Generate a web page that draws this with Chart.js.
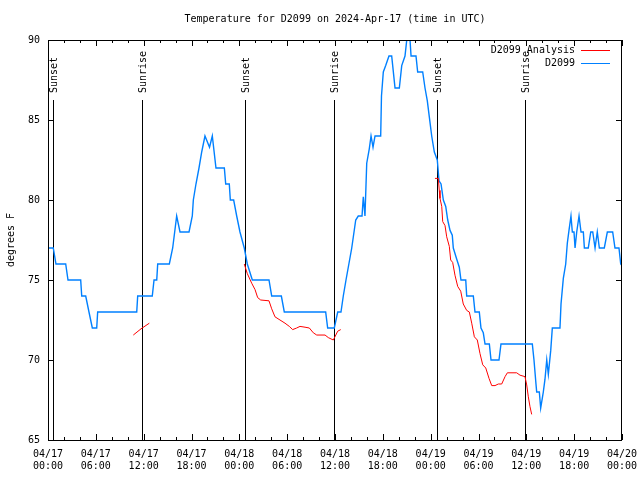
<!DOCTYPE html>
<html>
<head>
<meta charset="utf-8">
<script src="https://cdn.jsdelivr.net/npm/chart.js@4/dist/chart.umd.min.js"></script>
<style>
  html, body { margin: 0; padding: 0; background: #fff; }
  #wrap { width: 640px; height: 480px; }
</style>
</head>
<body>
<div id="wrap"><canvas id="temp-chart" width="640" height="480"></canvas></div>
<script>
// hours since 04/17 00:00 UTC
const obsHours = [0, 0.66, 1.0, 2.22, 2.51, 4.10, 4.23, 4.73, 5.14, 5.56, 6.11, 6.23, 11.13, 11.25, 13.08, 13.30, 13.64, 13.76,
  15.22, 15.64, 15.89, 16.14, 16.56, 17.69, 18.10, 18.23, 18.56, 18.94, 19.28, 19.69, 20.26, 20.61, 21.07, 22.12, 22.29,
  22.74, 22.87, 23.29, 23.67, 24.08, 24.62, 25.00, 25.63, 27.72, 28.06, 29.27, 29.64, 34.83, 35.08, 35.91, 36.34, 36.75,
  37.04, 37.38, 38.10, 38.60, 38.92, 39.39, 39.55, 39.76, 39.98, 40.30, 40.52, 40.77, 41.02, 41.73, 41.83, 42.06, 42.36,
  42.77, 43.11, 43.53, 44.07, 44.37, 44.78, 45.00, 45.41, 45.54, 46.16, 46.37, 47.00, 47.29, 47.58, 47.83, 48.13, 48.46,
  48.83, 49.05, 49.30, 49.59, 49.89, 50.14, 50.43, 50.71, 50.84, 51.27, 51.59, 51.80, 52.40, 52.52, 53.35, 53.56, 54.10,
  54.31, 54.60, 54.82, 55.36, 55.57, 56.57, 56.82, 60.75, 60.96, 61.21, 61.30, 61.63, 61.80, 62.00, 62.13, 62.34, 62.56,
  62.76, 63.06, 63.26, 64.22, 64.35, 64.64, 64.94, 65.14, 65.35, 65.60, 65.77, 65.98, 66.11, 66.32, 66.61, 66.86, 67.15,
  67.28, 67.77, 68.08, 68.33, 68.62, 68.90, 69.16, 69.78, 70.16, 70.83, 71.12, 71.62, 71.84, 72.0];
const obsTemps = [77, 77, 76, 76, 75, 75, 74, 74, 73, 72, 72, 73, 73, 74, 74, 75, 75, 76,
  76, 77, 78, 79, 78, 78, 79, 80, 81, 82, 83, 84, 83.3, 84, 82, 82, 81,
  81, 80, 80, 79, 78, 77, 76, 75, 75, 74, 74, 73, 73, 72, 72, 73, 73,
  74, 75, 77, 78.75, 79, 79, 80.2, 79, 82.3, 83.2, 84, 83.3, 84, 84, 86.5, 88, 88.4,
  89, 89, 87, 87, 88.4, 89, 90, 90, 89, 89, 88, 88, 87, 86.2, 85.2, 84, 83,
  82.5, 81.2, 81, 80, 79.6, 78.75, 78.1, 77.8, 77, 76.3, 75.8, 75, 75, 74, 74, 73, 73,
  72, 71.7, 71, 71, 70, 70, 71, 71, 70, 68.5, 68, 68, 67, 67.6, 68, 68.8, 70,
  69.1, 70.6, 72, 72, 73.5, 75.1, 76, 77.3, 78.1, 79, 78, 78, 77, 78, 79, 78, 78,
  77, 77, 78, 78, 77, 78, 77, 77, 78, 78, 77, 77, 76, 75.9];

const anaHours = [10.70, 11.67, 12.71, 18.0,
  24.62, 25.00, 25.55, 25.97, 26.30, 26.68, 27.72, 28.06, 28.47, 29.10, 29.73, 30.27, 30.69, 31.19, 31.61, 32.24,
  32.78, 33.28, 33.71, 34.75, 35.16, 35.79, 36.34, 36.72, 42.0,
  48.54, 48.96, 49.08, 49.17, 49.39, 49.51, 49.80, 50.01, 50.34, 50.51, 50.76, 51.05, 51.39, 51.77, 52.09, 52.52,
  52.85, 53.15, 53.48, 53.85, 54.19, 54.53, 54.91, 55.32, 55.66, 56.07, 56.49, 56.91, 57.33, 57.62, 58.79, 59.21,
  59.83, 60.05, 60.25, 60.46, 60.67];
const anaTemps = [71.56, 71.95, 72.3, null,
  76.0, 75.4, 74.8, 74.4, 73.9, 73.75, 73.7, 73.2, 72.7, 72.5, 72.3, 72.1, 71.9, 72.0, 72.1, 72.05,
  72.0, 71.7, 71.56, 71.56, 71.4, 71.25, 71.8, 71.9, null,
  81.35, 81.35, 80.6, 80.1, 79.6, 78.65, 78.4, 77.7, 77.1, 76.25, 76.1, 75.3, 74.6, 74.3, 73.5, 73.1,
  73.0, 72.3, 71.45, 71.25, 70.4, 69.7, 69.5, 68.85, 68.4, 68.4, 68.5, 68.5, 68.96, 69.2, 69.2, 69.05,
  68.96, 68.44, 67.7, 67.08, 66.6];

const sunHours = [0.63, 11.79, 24.71, 35.88, 48.8, 59.83];
const sunLabels = ["Sunset", "Sunrise", "Sunset", "Sunrise", "Sunset", "Sunrise"];

const tickDates = ["04/17", "04/17", "04/17", "04/17", "04/18", "04/18", "04/18", "04/18", "04/19", "04/19", "04/19", "04/19", "04/20"];
const tickTimes = ["00:00", "06:00", "12:00", "18:00", "00:00", "06:00", "12:00", "18:00", "00:00", "06:00", "12:00", "18:00", "00:00"];
const yTicks = [65, 70, 75, 80, 85, 90];

const FONT = "DejaVu Sans Mono";
const RED = "#ff0000";
const BLUE = "#0080ff";

const toPoints = (xs, ys) => xs.map((x, i) => ({ x, y: ys[i] }));

// gnuplot style frame, inside ticks, sun lines, legend, titles
const decorations = {
    id: "decorations",
    beforeDatasetsDraw(chart) {
        const { ctx, chartArea: a, scales: { x } } = chart;
        ctx.save();
        ctx.strokeStyle = "#000";
        ctx.lineWidth = 1;
        ctx.beginPath();
        for (let i = 0; i < sunHours.length; i++) {
            const px = Math.round(x.getPixelForValue(sunHours[i])) + 0.5;
            ctx.moveTo(px, 100);
            ctx.lineTo(px, a.bottom);
        }
        ctx.stroke();

        ctx.fillStyle = "#000";
        ctx.font = "10px '" + FONT + "'";
        ctx.textAlign = "left";
        ctx.textBaseline = "middle";
        for (let i = 0; i < sunHours.length; i++) {
            const px = Math.round(x.getPixelForValue(sunHours[i])) + 1;
            ctx.save();
            ctx.translate(px, 93);
            ctx.rotate(-Math.PI / 2);
            ctx.fillText(sunLabels[i], 0, 0);
            ctx.restore();
        }
        ctx.restore();
    },
    afterDatasetsDraw(chart) {
        const { ctx, chartArea: a, scales: { x, y } } = chart;
        ctx.save();
        ctx.strokeStyle = "#000";
        ctx.lineWidth = 1;
        ctx.strokeRect(a.left + 0.5, a.top + 0.5, a.right - a.left - 1, a.bottom - a.top);

        ctx.beginPath();
        for (let h = 0; h <= 72; h += 2) {
            const px = Math.round(x.getPixelForValue(h)) + 0.5;
            const len = h % 6 === 0 ? 6 : 3;
            ctx.moveTo(px, a.bottom);
            ctx.lineTo(px, a.bottom - len);
            ctx.moveTo(px, a.top);
            ctx.lineTo(px, a.top + len);
        }
        for (const v of yTicks) {
            const py = Math.round(y.getPixelForValue(v)) + 0.5;
            ctx.moveTo(a.left, py);
            ctx.lineTo(a.left + 6, py);
            ctx.moveTo(a.right, py);
            ctx.lineTo(a.right - 6, py);
        }
        ctx.stroke();

        ctx.fillStyle = "#000";
        ctx.font = "10px '" + FONT + "'";
        ctx.textBaseline = "middle";
        ctx.textAlign = "center";
        ctx.fillText("Temperature for D2099 on 2024-Apr-17 (time in UTC)", (a.left + a.right) / 2, 19);

        ctx.save();
        ctx.translate(11, 240);
        ctx.rotate(-Math.PI / 2);
        ctx.fillText("degrees F", 0, 0);
        ctx.restore();

        // legend
        ctx.textAlign = "right";
        const rows = [["D2099 Analysis", RED, 50], ["D2099", BLUE, 63]];
        for (const [label, color, ly] of rows) {
            ctx.fillStyle = "#000";
            ctx.fillText(label, 575, ly);
            ctx.strokeStyle = color;
            ctx.lineWidth = 1;
            ctx.beginPath();
            ctx.moveTo(581, ly + 0.5);
            ctx.lineTo(610, ly + 0.5);
            ctx.stroke();
        }
        ctx.restore();
    }
};

new Chart(document.getElementById("temp-chart"), {
    type: "line",
    data: {
        datasets: [
            {
                label: "D2099 Analysis",
                data: toPoints(anaHours, anaTemps),
                borderColor: RED,
                borderWidth: 1,
                pointRadius: 0,
                spanGaps: false,
                tension: 0
            },
            {
                label: "D2099",
                data: toPoints(obsHours, obsTemps),
                borderColor: BLUE,
                borderWidth: 1.4,
                pointRadius: 0,
                tension: 0
            }
        ]
    },
    options: {
        responsive: false,
        animation: false,
        events: [],
        layout: { padding: { top: 40, right: 18, left: 0, bottom: 0 } },
        plugins: {
            legend: { display: false },
            tooltip: { enabled: false }
        },
        scales: {
            x: {
                type: "linear",
                min: 0,
                max: 72,
                afterFit: (s) => { s.height = 40; s.paddingLeft = 0; s.paddingRight = 0; },
                afterBuildTicks: (s) => { s.ticks = tickTimes.map((t, i) => ({ value: i * 6 })); },
                grid: { display: false, drawTicks: false },
                border: { display: false },
                ticks: {
                    autoSkip: false,
                    maxRotation: 0,
                    padding: 8,
                    color: "#000",
                    font: { family: FONT, size: 10 },
                    callback: (v) => [tickDates[v / 6], tickTimes[v / 6]]
                }
            },
            y: {
                min: 65,
                max: 90,
                afterFit: (s) => { s.width = 48; s.paddingTop = 0; s.paddingBottom = 0; },
                afterBuildTicks: (s) => { s.ticks = yTicks.map((v) => ({ value: v })); },
                grid: { display: false, drawTicks: false },
                border: { display: false },
                ticks: {
                    padding: 8,
                    color: "#000",
                    font: { family: FONT, size: 10 },
                    callback: (v) => String(v)
                }
            }
        }
    },
    plugins: [decorations]
});
</script>
</body>
</html>
